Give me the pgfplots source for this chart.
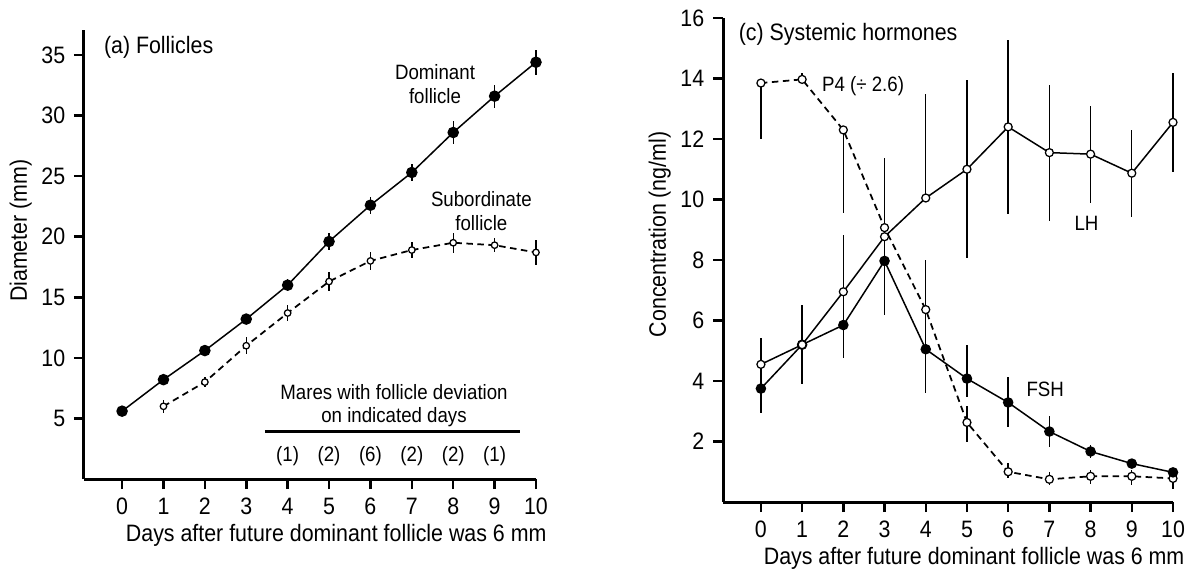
\documentclass[border=0pt]{standalone}
\usepackage{fontspec}
\setmainfont{Liberation Sans}[FakeStretch=0.9]
\usepackage{pgfplots}
\usepackage{pgfplotstable}
\pgfplotsset{compat=1.18}

% (a) follicle diameters, mm
\pgfplotstableread{
x y e
0 5.6 0.3
1 8.2 0.3
2 10.6 0.3
3 13.2 0.4
4 16.0 0.5
5 19.6 0.69
6 22.6 0.69
7 25.3 0.72
8 28.6 0.92
9 31.6 0.95
10 34.4 1.03
}\dominant
\pgfplotstableread{
x y e
1 6.0 0.52
2 8.0 0.44
3 11.0 0.69
4 13.7 0.69
5 16.3 0.75
6 18.0 0.71
7 18.9 0.66
8 19.5 0.82
9 19.3 0.58
10 18.7 1.0
}\subordinate

% (c) hormones, ng/ml
\pgfplotstableread{
x y ep em
0 4.55 0.88 0
1 5.2 1.3 1.3
2 6.95 1.88 1.1
3 8.77 2.6 2.6
4 10.05 3.45 0
5 11.0 2.95 2.95
6 12.4 2.87 2.87
7 11.55 2.25 2.25
8 11.5 1.6 1.6
9 10.87 1.44 1.44
10 12.55 1.64 1.64
}\lh
\pgfplotstableread{
x y ep em
0 3.75 0.8 0.8
1 5.2 0 0
2 5.85 0 1.08
3 7.97 0 0
4 5.05 1.45 1.45
5 4.08 1.12 0.6
6 3.29 0.85 0.8
7 2.33 0.5 0.5
8 1.67 0.22 0.22
9 1.27 0.1 0.1
10 0.98 0.1 0.1
}\fsh
\pgfplotstableread{
x y ep em
0 13.85 0 1.85
1 13.97 0.2 0
2 12.3 0 2.75
3 9.07 0 0
4 6.36 1.64 0
5 2.63 0.53 0.63
6 1.0 0.3 0.2
7 0.75 0.25 0.2
8 0.85 0.2 0.25
9 0.85 0.2 0.3
10 0.78 0.2 0.35
}\pfour

\newcommand\ann{\fontsize{8.3}{9.4}\selectfont}

\pgfplotsset{
  panel/.style={
    scale only axis,
    axis x line=bottom, axis y line=left,
    axis line style={-, line width=1.2pt},
    tick align=outside,
    major tick length=4pt,
    tick style={line width=1pt, black},
    xmin=-0.92, xmax=10,
    xtick={0,...,10},
    font=\fontsize{9.5}{11}\selectfont,
    /pgf/number format/assume math mode=true,
    xlabel={Days after future dominant follicle was 6 mm},
    xlabel style={at={(ticklabel cs:0.558)}, yshift=3pt},
    ylabel style={at={(ticklabel cs:0.553)}, yshift=-3pt},
    clip=false,
  },
  ebars/.style={error bars/y dir=both, error bars/y explicit, error bars/error mark=none,
    error bars/error bar style={line width=0.55pt, solid}},
  solidser/.style={black, line width=0.6pt, ebars},
  dashser/.style={black, line width=0.7pt, dash pattern=on 2.6pt off 1.8pt, ebars},
}

\begin{document}
\begin{tikzpicture}
\useasboundingbox (0,0) rectangle (474pt,-227.6pt);

\begin{axis}[panel,
  at={(33.6pt,-191.6pt)}, anchor=south west,
  width=180.8pt, height=179.6pt,
  ymin=0, ymax=37.06,
  ytick={5,10,...,35},
  ylabel={Diameter (mm)},
]
\addplot[dashser, mark=*, mark size=1.3pt, mark options={solid, fill=white, line width=0.5pt}]
  table[x=x, y=y, y error=e] {\subordinate};
\addplot[solidser, mark=*, mark size=2pt]
  table[x=x, y=y, y error=e] {\dominant};
\addplot[black, line width=1.2pt, no marks] coordinates {(3.45,3.93) (9.62,3.93)};
\node[anchor=west] at (axis cs:-0.65,35.66) {(a) Follicles};
\node[align=center, font=\ann] at (axis cs:7.56,32.6) {Dominant\\follicle};
\node[align=center, font=\ann] at (axis cs:8.68,22.1) {Subordinate\\follicle};
\node[align=center, font=\ann] at (axis cs:6.57,6.07) {Mares with follicle deviation\\on indicated days};
\node[font=\ann] at (axis cs:4,1.87) {(1)};
\node[font=\ann] at (axis cs:5,1.87) {(2)};
\node[font=\ann] at (axis cs:6,1.87) {(6)};
\node[font=\ann] at (axis cs:7,1.87) {(2)};
\node[font=\ann] at (axis cs:8,1.87) {(2)};
\node[font=\ann] at (axis cs:9,1.87) {(1)};
\end{axis}

\begin{axis}[panel,
  at={(289.2pt,-200.8pt)}, anchor=south west,
  width=180pt, height=193.6pt,
  ymin=0, ymax=16,
  ytick={2,4,...,16},
  ylabel={Concentration (ng/ml)},
]
\addplot[dashser, mark=*, mark size=1.6pt, mark options={solid, fill=white, line width=0.5pt}]
  table[x=x, y=y, y error plus=ep, y error minus=em] {\pfour};
\addplot[solidser, mark=*, mark size=1.8pt]
  table[x=x, y=y, y error plus=ep, y error minus=em] {\fsh};
\addplot[solidser, mark=*, mark size=1.6pt, mark options={fill=white, line width=0.5pt}]
  table[x=x, y=y, y error plus=ep, y error minus=em] {\lh};
\node[anchor=west] at (axis cs:-0.75,15.45) {(c) Systemic hormones};
\node[font=\ann] at (axis cs:2.48,13.75) {P4 (÷ 2.6)};
\node[font=\ann] at (axis cs:7.9,9.22) {LH};
\node[font=\ann] at (axis cs:6.9,3.72) {FSH};
\end{axis}
\end{tikzpicture}
\end{document}
